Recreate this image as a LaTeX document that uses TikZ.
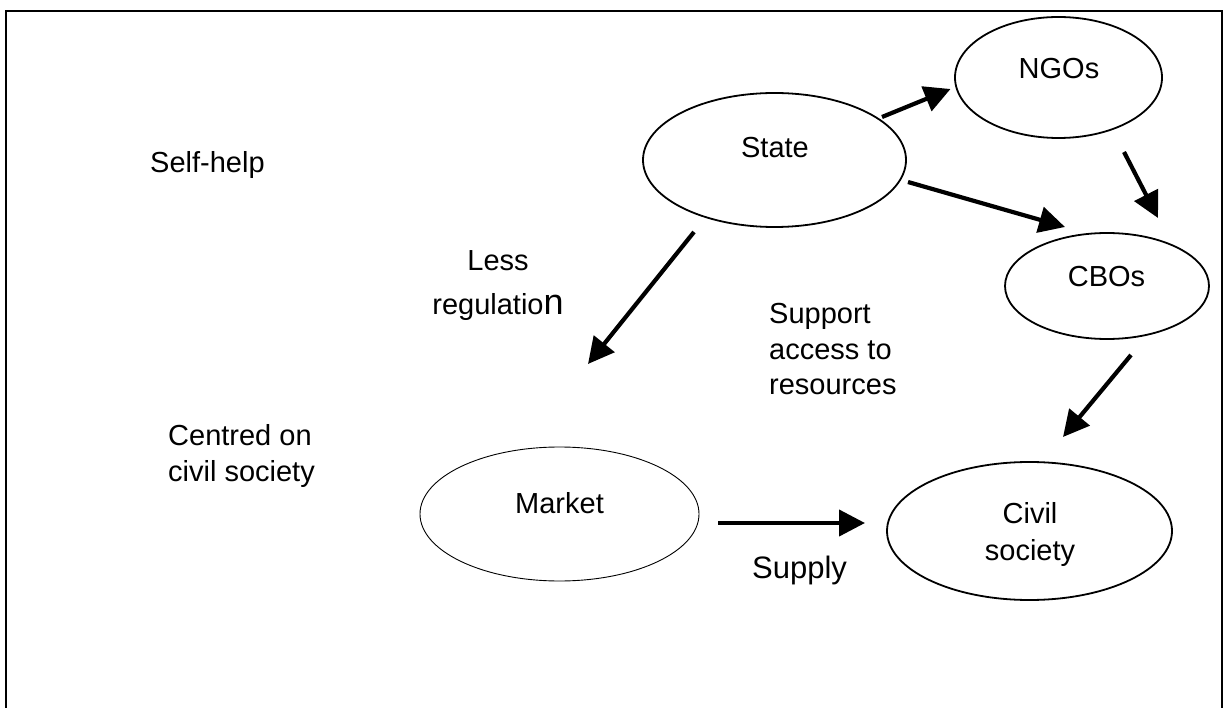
\documentclass[tikz,border=0pt]{standalone}
\usepackage{fontspec}
\setmainfont{Liberation Sans}
\usetikzlibrary{arrows.meta,shapes.geometric}

\begin{document}
\begin{tikzpicture}[x=1pt,y=-1pt,
  blob/.style={draw,ellipse,line width=1.8pt,inner sep=0pt},
  thinblob/.style={blob,line width=0.9pt},
  lbl/.style={inner sep=0pt,font=\fontsize{29}{35}\selectfont},
  flow/.style={line width=4.2pt,-{Triangle[length=26pt,width=26pt]}},
]
\useasboundingbox (0,0) rectangle (1226,708);

% frame, open at the bottom
\draw[line width=2.4pt] (6,708) -- (6,11) -- (1222,11) -- (1222,708);

% organisations
\node[blob,minimum width=263pt,minimum height=134pt] (state) at (774.5,160) {};
\node[blob,minimum width=207pt,minimum height=121pt] (ngos)  at (1058.5,77.5) {};
\node[blob,minimum width=204pt,minimum height=106pt] (cbos)  at (1107,286) {};
\node[thinblob,minimum width=279pt,minimum height=134pt] (market) at (559.5,514) {};
\node[blob,minimum width=285pt,minimum height=138pt] (civil) at (1029.5,531) {};

\node[lbl,anchor=base] (state-t)  at (775,158)  {State};
\node[lbl,anchor=base] (ngos-t)   at (1059,79)  {NGOs};
\node[lbl,anchor=base] (cbos-t)   at (1106.5,287) {CBOs};
\node[lbl,anchor=base] (market-t) at (559.5,513) {Market};
\node[lbl,anchor=base] (civil-t1) at (1030,523) {Civil};
\node[lbl,anchor=base] (civil-t2) at (1030,560) {society};

% side notes
\node[lbl,anchor=base west] (selfhelp) at (150,173) {Self-help};
\node[lbl,anchor=base west] (centred1) at (168,445) {Centred on};
\node[lbl,anchor=base west] (centred2) at (168,481) {civil society};
\node[lbl,anchor=base] (less1) at (498,271) {Less};
\node[lbl,anchor=base] (less2) at (498,315) {regulatio{\fontsize{36}{40}\selectfont n}};
\node[lbl,anchor=base west] (support1) at (769,324) {Support};
\node[lbl,anchor=base west] (support2) at (769,360) {access to};
\node[lbl,anchor=base west] (support3) at (769,395) {resources};
\node[lbl,anchor=base west,font=\fontsize{31}{37}\selectfont] (supply) at (752,578) {Supply};

% connector ends
\coordinate (sn-a) at (882,117);  \coordinate (sn-b) at (950.5,89);
\coordinate (sc-a) at (908,182);  \coordinate (sc-b) at (1065,227);
\coordinate (nc-a) at (1124,152); \coordinate (nc-b) at (1158,218);
\coordinate (sm-a) at (694,232);  \coordinate (sm-b) at (588,364);
\coordinate (cc-a) at (1131,355); \coordinate (cc-b) at (1063,437);
\coordinate (mc-a) at (718,523);  \coordinate (mc-b) at (865,523);

\draw[flow] (sn-a) -- (sn-b);
\draw[flow] (sc-a) -- (sc-b);
\draw[flow] (nc-a) -- (nc-b);
\draw[flow] (sm-a) -- (sm-b);
\draw[flow] (cc-a) -- (cc-b);
\draw[flow] (mc-a) -- (mc-b);
\end{tikzpicture}
\end{document}
